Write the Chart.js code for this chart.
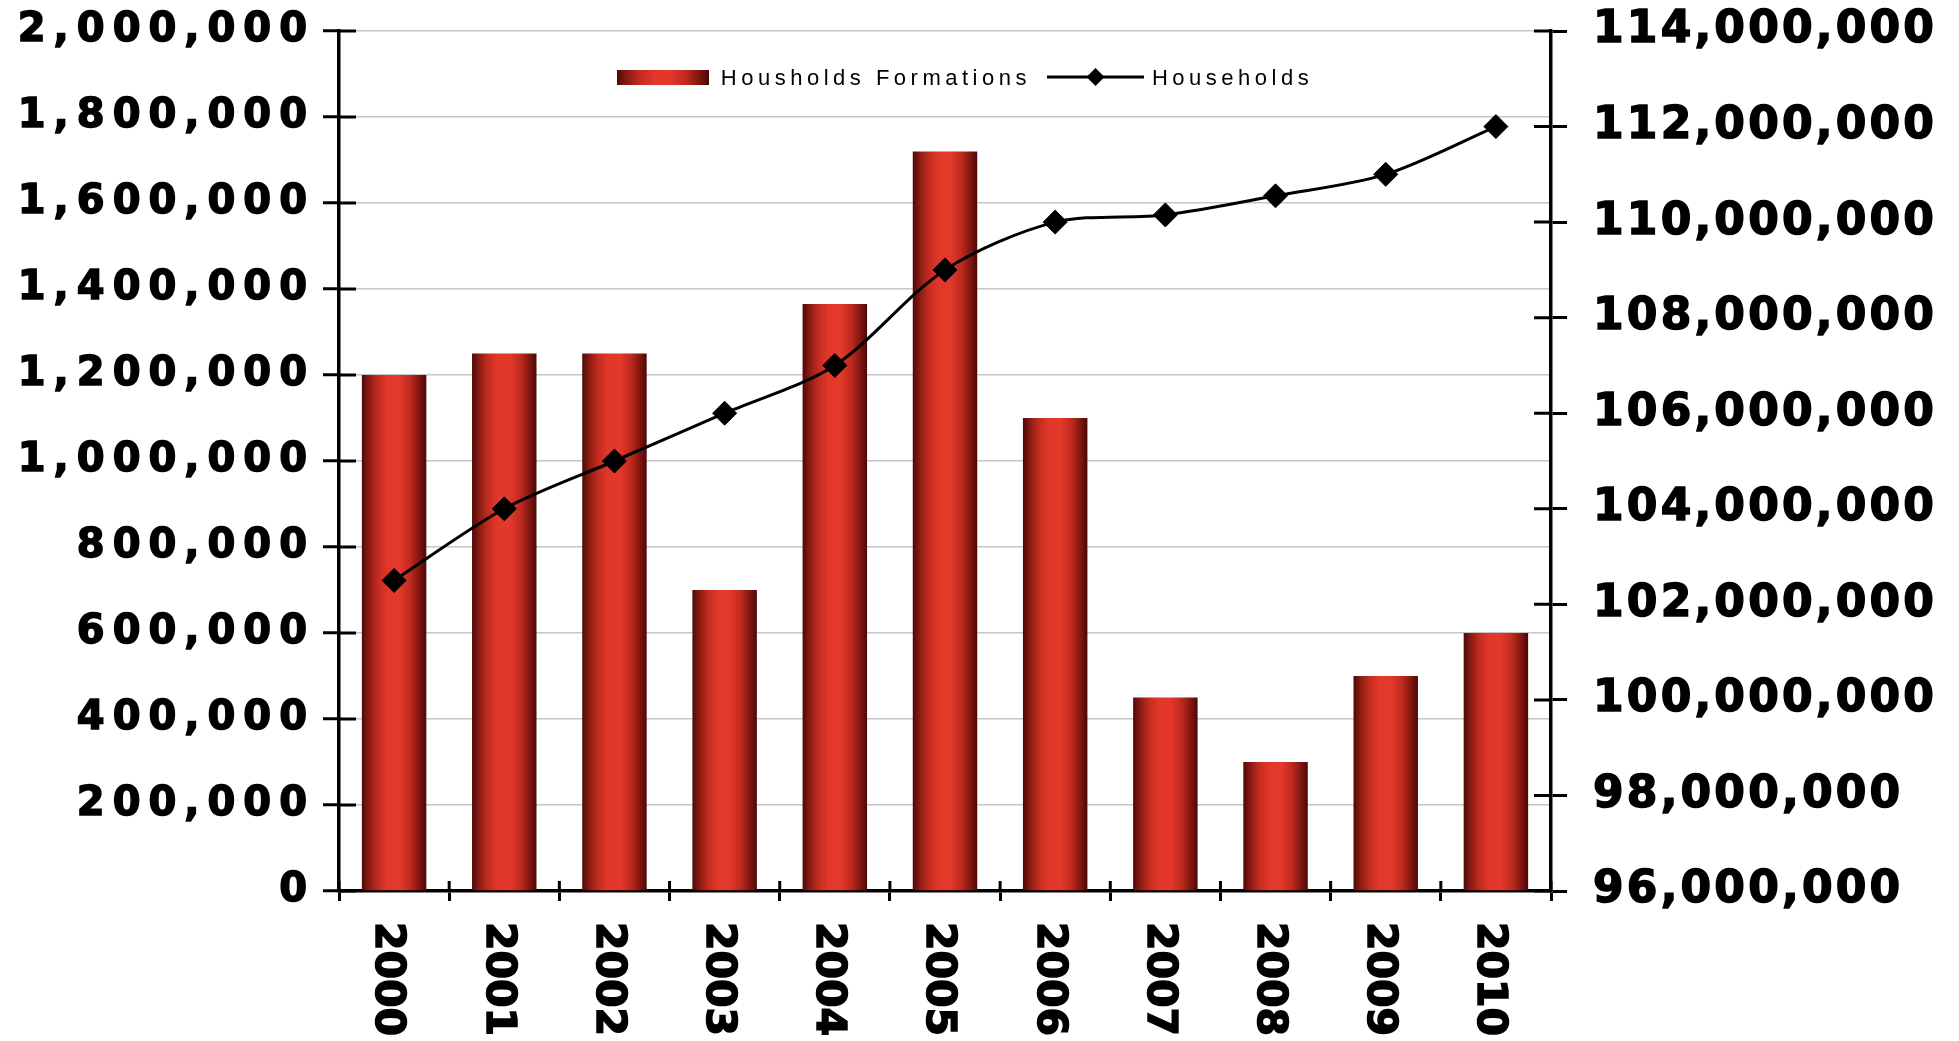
<!DOCTYPE html>
<html>
<head>
<meta charset="utf-8">
<title>Households and Household Formations, 2000-2010</title>
<script src="https://cdn.jsdelivr.net/npm/chart.js@4.4.1/dist/chart.umd.min.js"></script>
<style>
  html, body { margin: 0; padding: 0; background: #fff; }
  canvas { display: block; }
</style>
</head>
<body>
<canvas id="householdsChart" width="1959" height="1041"></canvas>
<script>
/*===== DATA =====*/
const years = ["2000", "2001", "2002", "2003", "2004", "2005", "2006", "2007", "2008", "2009", "2010"];
const formations = [1200000, 1250000, 1250000, 700000, 1365000, 1720000, 1100000, 450000, 300000, 500000, 600000];
const households = [102500000, 104000000, 105000000, 106000000, 107000000, 109000000, 110000000, 110150000, 110550000, 111000000, 112000000];

const formationTicks = [0, 200000, 400000, 600000, 800000, 1000000, 1200000, 1400000, 1600000, 1800000, 2000000];
const householdTicks = [96000000, 98000000, 100000000, 102000000, 104000000, 106000000, 108000000, 110000000, 112000000, 114000000];

/*===== LOOK =====*/
const BAR_SHARE = 0.585;
const LEFT_SPACING = "8px";
const RIGHT_SPACING = "3.2px";
const TICK_FONT = '"DejaVu Sans", sans-serif';
const LEGEND_FONT = '22px "Liberation Sans", Arial, sans-serif';

// dark edges, bright red middle: gives the bars a rounded look
const barStops = [
  [0, "#4e0907"],
  [0.1, "#851a12"],
  [0.25, "#c42c1f"],
  [0.4, "#e1382a"],
  [0.58, "#e3392b"],
  [0.75, "#c02a1e"],
  [0.9, "#7d150f"],
  [1, "#4a0806"],
];

function addBarStops(grad) {
  barStops.forEach((s) => grad.addColorStop(s[0], s[1]));
  return grad;
}

// one horizontal gradient per bar, placed from the x scale
function barFill(context) {
  const chart = context.chart;
  const xs = chart.scales.x;
  if (context.dataIndex === undefined || !xs || !chart.chartArea) {
    return "#d93326";
  }
  const cx = xs.getPixelForValue(context.dataIndex);
  const half = (xs.width / years.length) * BAR_SHARE / 2;
  return addBarStops(chart.ctx.createLinearGradient(cx - half, 0, cx + half, 0));
}

// legend swatches
function makeBarSwatch() {
  const c = document.createElement("canvas");
  c.width = 92;
  c.height = 15;
  const g = c.getContext("2d");
  g.fillStyle = addBarStops(g.createLinearGradient(0, 0, 92, 0));
  g.fillRect(0, 0, 92, 15);
  return c;
}

function makeLineSwatch() {
  const c = document.createElement("canvas");
  c.width = 97;
  c.height = 20;
  const g = c.getContext("2d");
  g.strokeStyle = "#000";
  g.fillStyle = "#000";
  g.lineWidth = 3;
  g.beginPath();
  g.moveTo(0, 10);
  g.lineTo(97, 10);
  g.stroke();
  g.beginPath();
  g.moveTo(48.5, 1);
  g.lineTo(57.5, 10);
  g.lineTo(48.5, 19);
  g.lineTo(39.5, 10);
  g.closePath();
  g.fill();
  return c;
}

const barSwatch = makeBarSwatch();
const lineSwatch = makeLineSwatch();

const withCommas = (value) => value.toLocaleString("en-US");

// keep the y scales from padding the plot for their half label heights
function fixYScale(width) {
  return (scale) => {
    scale.width = width;
    scale.paddingTop = 0;
    scale.paddingBottom = 0;
  };
}

/*===== PLUGINS =====*/
// letter spacing for the axis numbers: left labels are drawn before the
// datasets, right labels (ticks.z = 1) after them
const tickSpacing = {
  id: "tickSpacing",
  beforeDraw(chart) {
    chart.ctx.letterSpacing = LEFT_SPACING;
  },
  afterDatasetsDraw(chart) {
    chart.ctx.letterSpacing = RIGHT_SPACING;
  },
};

// legend row inside the plot, under the top gridline
function drawLegend(chart) {
  const ctx = chart.ctx;
  const area = chart.chartArea;
  const barLabel = chart.data.datasets[1].label;
  const lineLabel = chart.data.datasets[0].label;

  ctx.save();
  ctx.font = LEGEND_FONT;
  ctx.letterSpacing = "4.5px";
  ctx.textAlign = "left";
  ctx.textBaseline = "middle";
  ctx.fillStyle = "#000";

  const w1 = ctx.measureText(barLabel).width;
  const w2 = ctx.measureText(lineLabel).width;
  const total = barSwatch.width + 12 + w1 + 16 + lineSwatch.width + 8 + w2;
  const y = area.top + 46;
  let x = (area.left + area.right) / 2 + 20 - total / 2;

  ctx.drawImage(barSwatch, x, y - barSwatch.height / 2);
  x += barSwatch.width + 12;
  ctx.fillText(barLabel, x, y + 2);
  x += w1 + 16;
  ctx.drawImage(lineSwatch, x, y - lineSwatch.height / 2);
  x += lineSwatch.width + 8;
  ctx.fillText(lineLabel, x, y + 2);
  ctx.restore();
}

// inner half of the tick marks, year labels reading downwards, legend
const axisExtras = {
  id: "axisExtras",
  afterDraw(chart) {
    const ctx = chart.ctx;
    const { x, y, y1 } = chart.scales;

    ctx.save();
    ctx.letterSpacing = "0px";
    ctx.strokeStyle = "#000";
    ctx.lineWidth = 3;
    ctx.beginPath();
    y.ticks.forEach((t) => {
      const py = y.getPixelForValue(t.value);
      ctx.moveTo(x.left, py);
      ctx.lineTo(x.left + 17, py);
    });
    y1.ticks.forEach((t) => {
      const py = y1.getPixelForValue(t.value);
      ctx.moveTo(x.right - 17, py);
      ctx.lineTo(x.right, py);
    });
    for (let i = 0; i <= years.length; i++) {
      const px = x.getPixelForValue(i - 0.5);
      ctx.moveTo(px, y.bottom);
      ctx.lineTo(px, y.bottom - 10);
    }
    ctx.stroke();

    ctx.font = "bold 41px " + TICK_FONT;
    ctx.fillStyle = "#000";
    ctx.lineWidth = 1.5;
    ctx.textAlign = "left";
    ctx.textBaseline = "middle";
    years.forEach((year, i) => {
      ctx.save();
      ctx.translate(x.getPixelForValue(i) - 7, y.bottom + 31);
      ctx.rotate(Math.PI / 2);
      ctx.fillText(year, 0, 0);
      ctx.strokeText(year, 0, 0);
      ctx.restore();
    });
    ctx.restore();

    drawLegend(chart);
  },
};

/*===== CHART =====*/
new Chart(document.getElementById("householdsChart"), {
  type: "bar",
  data: {
    labels: years,
    datasets: [
      {
        type: "line",
        label: "Households",
        data: households,
        yAxisID: "y1",
        order: 0,
        borderColor: "#000",
        borderWidth: 3,
        tension: 0.3,
        pointStyle: "rectRot",
        pointRadius: 12,
        pointBackgroundColor: "#000",
        pointBorderColor: "#000",
        pointBorderWidth: 1,
      },
      {
        label: "Housholds Formations",
        data: formations,
        yAxisID: "y",
        order: 1,
        backgroundColor: barFill,
        borderWidth: 0,
        barPercentage: BAR_SHARE,
        categoryPercentage: 1,
      },
    ],
  },
  options: {
    responsive: false,
    animation: false,
    devicePixelRatio: 1,
    layout: { padding: { top: 31, left: 0, right: 0, bottom: 0 } },
    plugins: {
      tooltip: { enabled: false },
      legend: { display: false },
    },
    scales: {
      x: {
        grid: { drawOnChartArea: false, offset: true, tickLength: 10, tickWidth: 3, tickColor: "#000" },
        border: { color: "#000", width: 3.5 },
        ticks: { display: false },
        afterFit: (scale) => {
          scale.height = 150;
        },
      },
      y: {
        position: "left",
        min: 0,
        max: 2000000,
        afterBuildTicks: (scale) => {
          scale.ticks = formationTicks.map((v) => ({ value: v }));
        },
        grid: { color: "#c6c6c6", lineWidth: 1.5, tickLength: 16, tickWidth: 3, tickColor: "#000" },
        border: { color: "#000", width: 3.5 },
        ticks: {
          callback: withCommas,
          color: "#000",
          padding: 8,
          font: { family: TICK_FONT, size: 40, weight: "bold" },
          textStrokeColor: "#000",
          textStrokeWidth: 1.5,
        },
        afterFit: fixYScale(339),
      },
      y1: {
        position: "right",
        min: 96000000,
        max: 114000000,
        afterBuildTicks: (scale) => {
          scale.ticks = householdTicks.map((v) => ({ value: v }));
        },
        grid: { drawOnChartArea: false, tickLength: 16, tickWidth: 3, tickColor: "#000" },
        border: { color: "#000", width: 3.5 },
        ticks: {
          z: 1,
          callback: withCommas,
          color: "#000",
          padding: 26,
          font: { family: TICK_FONT, size: 44, weight: "bold" },
          textStrokeColor: "#000",
          textStrokeWidth: 1.5,
        },
        afterFit: fixYScale(408),
      },
    },
  },
  plugins: [tickSpacing, axisExtras],
});
</script>
</body>
</html>
